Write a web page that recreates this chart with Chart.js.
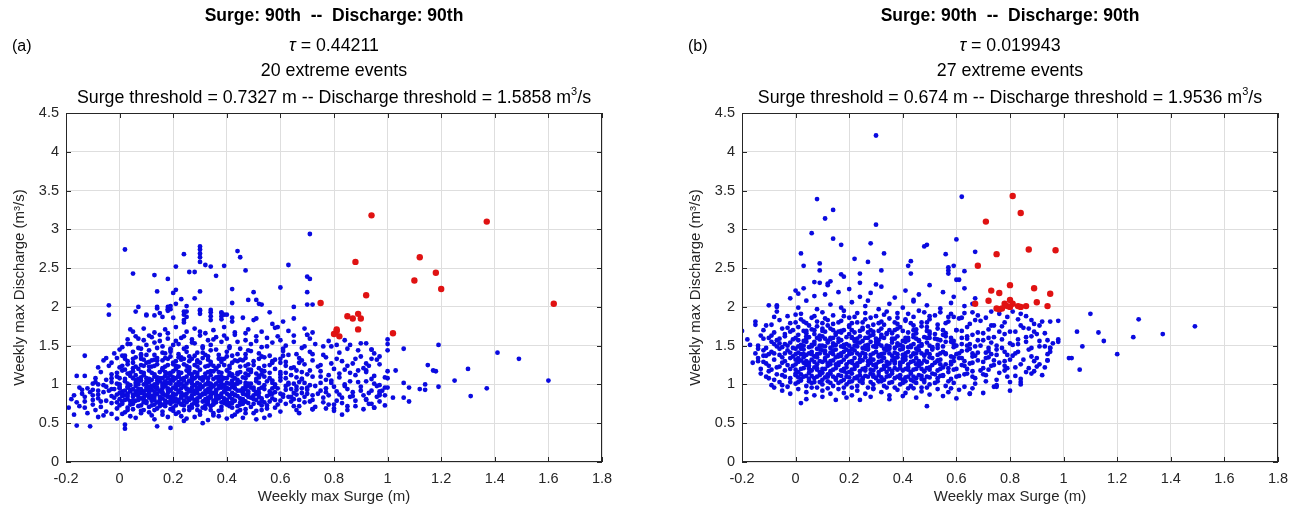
<!DOCTYPE html>
<html>
<head>
<meta charset="utf-8">
<script src="https://cdn.jsdelivr.net/npm/chart.js@4.4.1/dist/chart.umd.min.js"></script>
<style>
  body { margin: 0; background: #fff; font-family: "Liberation Sans", Arial, sans-serif; }
  #wrap { position: relative; width: 1302px; height: 513px; overflow: hidden; }
  .panel { position: absolute; top: 0; width: 651px; height: 513px; }
  .panel canvas { position: absolute; left: 0; top: 0; }
  .t { position: absolute; white-space: nowrap; transform: translateX(-50%); font-size: 17.8px; line-height: 20px; color: #000; }
  .t.b { font-weight: bold; font-size: 17.5px; }
  .tag { position: absolute; font-size: 16px; line-height: 18px; color: #000; }
  sup { font-size: 11px; line-height: 0; position: relative; top: -1px; }
</style>
</head>
<body>
<div id="wrap">
  <div class="panel" id="pa" style="left:0"><canvas id="ca" width="651" height="513"></canvas></div>
  <div class="panel" id="pb" style="left:651px"><canvas id="cb" width="651" height="513"></canvas></div>
</div>
<script>
// all values in hundredths: [surge (cm), discharge (0.01 m3/s)]
const xTicks = [-0.2, 0, 0.2, 0.4, 0.6, 0.8, 1, 1.2, 1.4, 1.6, 1.8];
const yTicks = [0, 0.5, 1, 1.5, 2, 2.5, 3, 3.5, 4, 4.5];

const tauA = '0.44211', eventsA = 20, surgeThrA = '0.7327', dischThrA = '1.5858';
const tauB = '0.019943', eventsB = 27, surgeThrB = '0.674', dischThrB = '1.9536';

// (a) extreme events
const redA = [[94,318],[137,310],[88,258],[112,264],[118,244],[110,234],[120,223],[92,215],[75,205],[162,204],
  [85,188],[87,185],[89,191],[90,185],[89,171],[81,169],[80,165],[82,162],[102,166],[81,171]];

// (a) other weeks
const blueA = [
  [-17,61],[-16,47],[-11,46],[2,43],[2,48],[14,46],[19,44],[31,50],[24,53],[51,55],[54,57],[42,59],
  [-6,60],[-1,56],[4,59],[8,63],[13,55],[18,58],[21,62],[25,56],[30,61],[33,54],[37,59],[43,61],[46,57],[50,63],[56,60],[67,63],[83,61],
  [-12,63],[-9,67],[-5,65],[-1,69],[2,64],[5,68],[8,66],[11,64],[14,69],[16,65],[19,68],[22,64],[24,67],[27,70],[30,65],[32,69],[35,63],[38,67],[42,70],[44,65],[47,68],[51,66],[55,69],[60,65],[66,67],[72,68],[77,69],[80,66],[85,67],[91,68],[95,70],
  [-15,72],[-10,74],[-7,71],[-3,76],[0,73],[3,70],[5,75],[7,72],[9,77],[11,71],[13,74],[15,76],[17,72],[19,75],[20,70],[22,77],[24,73],[26,71],[28,76],[29,73],[31,70],[33,75],[34,72],[36,77],[38,71],[40,74],[42,76],[44,72],[46,75],[49,71],[52,76],[55,73],[58,70],[62,75],[65,72],[69,77],[73,71],[78,74],[83,76],[88,72],[94,75],[99,73],
  [-18,81],[-13,78],[-8,82],[-5,79],[-2,83],[1,78],[3,81],[5,84],[6,79],[8,82],[10,78],[11,83],[13,80],[14,77],[16,82],[17,79],[18,84],[20,78],[21,81],[23,83],[24,79],[25,77],[27,82],[28,80],[30,84],[31,78],[32,81],[34,83],[35,79],[37,82],[38,77],[40,80],[41,84],[43,79],[45,82],[47,78],[49,83],[51,80],[54,77],[57,82],[60,79],[63,84],[67,80],[71,78],[76,83],[81,79],[86,84],[92,81],[97,78],
  [-14,88],[-10,86],[-6,90],[-3,85],[0,89],[2,86],[4,91],[5,87],[7,84],[8,89],[10,86],[11,90],[12,85],[14,88],[15,91],[17,86],[18,89],[19,84],[21,87],[22,90],[23,85],[25,88],[26,91],[27,86],[29,89],[30,84],[31,87],[33,90],[34,86],[35,89],[37,85],[38,88],[39,91],[41,86],[42,89],[44,85],[46,88],[48,91],[50,86],[52,89],[55,85],[58,90],[61,87],[64,84],[68,89],[72,86],[77,90],[82,87],[87,85],[93,89],[99,86],
  [-12,95],[-8,92],[-5,97],[-2,94],[1,91],[3,96],[4,93],[6,98],[7,94],[9,91],[10,96],[12,93],[13,97],[15,92],[16,95],[17,98],[19,93],[20,96],[22,92],[23,95],[24,98],[26,93],[27,96],[28,91],[30,94],[31,97],[32,92],[34,95],[35,98],[36,93],[38,96],[39,91],[41,94],[42,97],[44,92],[46,95],[48,98],[50,93],[53,96],[56,91],[59,95],[62,98],[66,93],[70,96],[75,92],[80,97],[85,94],[90,92],[96,98],
  [-10,101],[-6,99],[-3,103],[0,100],[2,104],[4,99],[6,102],[8,105],[9,100],[11,103],[12,98],[14,101],[15,104],[17,99],[18,102],[20,105],[21,100],[22,103],[24,98],[25,101],[26,104],[28,99],[29,102],[31,105],[32,100],[33,103],[35,98],[36,101],[37,104],[39,99],[40,102],[42,105],[43,100],[45,103],[47,98],[49,101],[51,104],[54,99],[57,102],[60,105],[63,100],[67,103],[71,99],[75,102],[79,105],[84,100],[89,103],[95,101],
  [-9,108],[-5,106],[-1,110],[2,107],[4,111],[6,106],[8,109],[9,112],[11,107],[13,110],[14,105],[16,108],[17,111],[19,106],[20,109],[22,112],[23,107],[25,110],[26,105],[28,108],[29,111],[31,106],[32,109],[34,112],[35,107],[37,110],[38,105],[40,108],[42,111],[44,106],[46,109],[48,112],[51,107],[54,110],[57,105],[60,109],[64,112],[68,107],[72,110],[77,106],[82,109],[88,112],[94,107],
  [-16,111],[-13,111],[-14,93],[-13,137],[-5,134],[-8,122],
  [-7,116],[-3,113],[1,118],[3,114],[5,117],[7,120],[9,115],[11,118],[13,113],[15,116],[16,119],[18,114],[20,117],[21,120],[23,115],[25,118],[27,113],[28,116],[30,119],[32,114],[34,117],[36,120],[38,115],[40,118],[42,113],[45,116],[48,119],[51,114],[54,117],[58,120],[62,115],[66,118],[70,113],[75,117],[80,120],[86,115],[92,118],
  [-4,124],[0,122],[3,126],[5,121],[8,125],[10,128],[12,123],[14,126],[16,121],[18,125],[20,128],[22,123],[24,126],[26,122],[28,125],[30,128],[32,123],[34,126],[36,121],[39,125],[42,128],[45,123],[48,126],[52,121],[56,125],[60,128],[65,122],[69,126],[74,123],[79,127],[85,124],[91,121],[97,126],
  [-6,131],[-1,134],[3,130],[6,135],[9,132],[11,129],[14,134],[16,131],[19,136],[21,130],[24,133],[26,136],[29,131],[31,134],[34,129],[37,133],[40,136],[43,131],[47,134],[50,130],[54,135],[58,132],[62,129],[67,134],[72,131],[77,135],[83,130],[88,133],
  [-2,140],[2,137],[5,142],[8,139],[11,144],[13,138],[16,141],[19,145],[22,139],[25,142],[28,137],[31,141],[34,144],[37,138],[40,142],[44,139],[48,144],[52,140],[56,137],[61,143],[66,139],[71,142],[76,138],[82,141],[89,144],[95,140],
  [1,148],[4,152],[7,147],[10,151],[13,154],[16,149],[19,146],[22,152],[25,148],[28,153],[31,147],[34,151],[38,155],[41,149],[45,146],[49,152],[53,148],[57,154],[62,150],[68,147],[73,152],[79,149],[86,151],[92,153],
  [3,158],[6,162],[9,157],[12,161],[15,164],[18,159],[21,156],[24,162],[27,158],[30,163],[33,157],[36,161],[40,159],[43,164],[47,157],[51,162],[55,160],[60,157],[65,163],[71,159],[78,156],[84,157],
  [5,168],[9,172],[13,167],[17,171],[21,174],[25,168],[28,172],[32,166],[35,170],[39,174],[43,167],[48,171],[53,168],[58,173],[63,169],[69,172],[72,167],[70,164],[4,171],
  [10,190],[14,200],[15,192],[16,187],[19,201],[19,197],[24,194],[24,183],[24,180],[25,194],[25,187],[30,195],[34,193],[34,188],[34,183],[38,193],[38,188],[38,184],[42,186],[42,181],[50,183],[57,178],[59,174],[61,181],
  [2,274],[71,294],[30,278],[30,274],[30,269],[30,264],[30,258],[44,272],[45,264],[24,268],[5,243],[21,252],[26,245],[28,245],[32,254],[34,252],[39,253],[36,240],[47,247],[63,254],[70,239],[71,236],[13,241],[18,236],
  [14,220],[20,218],[21,222],[23,210],[28,211],[30,220],[42,223],[50,219],[48,209],[51,209],[52,204],[53,203],[60,225],[65,200],[70,219],[70,203],[72,203],[42,205],[56,193],
  [-4,202],[-4,190],[7,200],[6,194],[10,189],[13,189],[14,198],[18,200],[18,197],[18,195],[21,204],[25,201],[30,196],[30,191],[34,196],[38,192],[39,190],[40,190],[24,190],[20,186],[46,186],[51,185],[65,185],
  [160,105],[141,141],[149,133],[137,95],[131,85],[130,120],[125,105],[119,151],[119,97],[117,118],[118,117],[115,125],[114,100],[114,93],[112,94],[108,78],[108,96],[106,83],[106,102],[106,146],
  [103,118],[100,117],[100,158],[100,152],[100,144],[100,108],[99,96],[100,96],[97,91],[97,88],[97,86],[102,83],[95,70],[96,132],[97,136],[94,133],[94,145],[92,127],[92,116],[92,80],
  [70,164],[76,149],[81,151],[85,146],[90,153],[94,145],[80,69],[72,68],
  // dense core, second pass
  [3,67],[9,67],[13,67],[20,66],[26,67],[29,67],[34,67],[37,66],[45,67],[53,67],
  [1,75],[4,74],[10,76],[12,73],[16,74],[21,73],[23,75],[27,74],[32,73],[35,74],[39,76],[41,72],[45,74],[48,76],[53,73],
  [-10,80],[0,81],[2,80],[7,80],[9,80],[12,81],[15,80],[19,80],[22,80],[26,80],[29,82],[33,79],[36,81],[39,79],[42,81],[46,80],[50,81],[53,79],[58,80],[65,81],
  [-8,87],[-1,87],[1,88],[3,88],[6,87],[9,88],[13,87],[16,88],[20,88],[24,87],[28,88],[32,88],[36,87],[40,88],[43,87],[47,87],[51,88],[56,87],[60,88],[66,87],[70,88],
  [-10,93],[-3,94],[0,95],[5,94],[8,94],[11,95],[14,94],[18,95],[21,94],[25,95],[29,94],[33,94],[37,95],[40,94],[43,95],[47,94],[52,94],[57,95],[64,94],[68,95],
  [-8,100],[-1,101],[3,101],[7,100],[10,101],[13,100],[16,101],[19,101],[23,101],[27,101],[30,100],[34,101],[38,101],[41,101],[44,101],[48,101],[52,102],[58,100],[65,101],[69,102],
  [-3,108],[0,108],[5,108],[7,107],[10,108],[15,108],[18,108],[21,108],[24,108],[27,109],[30,108],[33,108],[36,109],[39,108],[43,108],[47,108],[52,109],[56,108],[62,108],[66,109],
  [-1,115],[4,115],[8,116],[12,115],[17,116],[19,115],[22,116],[26,115],[29,115],[33,116],[37,116],[41,115],[44,115],[49,116],[56,115],[60,116],[68,116],
  [1,124],[6,123],[9,124],[13,124],[17,123],[21,124],[25,124],[29,123],[33,124],[37,124],[41,124],[47,124],[54,124],[62,124],
  [2,133],[8,133],[13,132],[18,133],[23,132],[27,133],[33,132],[39,133],[45,132],[52,133],[60,133],
  // third pass, scattered
  [-13,84],[-7,78],[-4,92],[-1,77],[1,85],[3,97],[4,78],[6,91],[7,103],[8,73],[10,93],[11,88],[12,106],[13,84],[14,96],[15,72],[16,90],[17,104],[18,77],[19,92],
  [20,83],[21,97],[22,110],[23,74],[24,86],[25,94],[26,82],[27,105],[28,92],[29,78],[30,99],[31,88],[32,110],[33,83],[34,97],[35,75],[36,91],[37,106],[38,84],[39,97],
  [40,78],[41,112],[42,88],[43,95],[44,103],[45,77],[46,91],[47,114],[48,84],[49,96],[50,75],[51,90],[52,111],[53,82],[54,94],[55,104],[56,78],[57,88],[58,97],[59,74],
  [60,113],[61,84],[62,93],[63,102],[64,78],[65,89],[66,97],[67,72],[68,107],[69,84],[70,93],[71,118],[72,80],[73,98],[74,88],[75,110],[76,77],[77,95],[78,86],[79,102],
  [80,74],[81,91],[82,114],[83,83],[84,98],[85,72],[86,104],[87,90],[88,79],[89,118],[90,97],[91,86],[92,104],[93,75],[94,92],[95,111],[96,84],[97,99],[98,92],[99,109],
  [2,119],[5,128],[8,137],[11,123],[14,131],[17,140],[20,126],[23,135],[26,119],[29,129],[32,138],[35,124],[38,133],[41,121],[44,130],[47,139],[50,125],[53,118],[57,128],[61,137],
  [64,121],[68,131],[72,139],[75,125],[78,112],[81,133],[84,119],[87,127],[90,136],[93,124],
  [-17,86],[-15,96],[-11,90],[-9,103],[-16,77],[-19,70],[-13,70],[-8,58],[-3,62],[1,62],[6,57],[12,60],[16,61],[23,59],[28,58],[35,60],[40,56],[47,63],
  // fourth pass
  [0,97],[2,92],[3,85],[5,79],[6,112],[7,89],[9,83],[10,104],[11,97],[12,79],[13,91],[14,109],[15,84],[16,98],[17,75],[18,93],[19,112],[20,87],[21,79],[22,99],
  [23,89],[24,105],[25,83],[26,114],[27,91],[28,77],[29,96],[30,86],[31,109],[32,79],[33,100],[34,90],[35,117],[36,84],[37,98],[38,110],[39,82],[40,96],[41,76],[42,101],
  [43,86],[44,113],[45,92],[46,81],[47,102],[48,88],[49,119],[50,96],[52,84],[53,113],
  [-3,128],[0,145],[1,137],[3,152],[5,133],[7,159],[8,146],[10,138],[11,163],[12,131],[14,147],[15,156],[17,134],[18,166],[19,142],[20,151],[22,135],[23,160],[24,146],[26,130],
  [27,154],[29,141],[30,168],[31,149],[33,136],[35,158],[36,145],[38,129],[39,163],[41,147],[42,137],[44,155],[46,131],[47,166],[49,143],[51,156],[53,136],[55,149],[57,130],[59,162],
  [61,146],[63,138],[65,155],[67,128],[69,149]
];

// (b) extreme events
const redB = [[81,343],[84,321],[71,310],[87,274],[97,273],[75,268],[68,253],[80,228],[89,224],[73,221],[76,218],[95,217],[72,208],[80,209],
  [90,206],[67,204],[78,204],[79,201],[81,204],[83,201],[84,200],[86,201],[94,201],[75,198],[76,197],[77,198],[80,200]];

// (b) other weeks
const blueB = [
  [2,76],[4,81],[15,80],[24,80],[35,81],[49,72],[60,82],[65,88],[10,84],[19,83],[28,84],[40,85],[45,83],[55,85],
  [-5,92],[-2,88],[1,94],[4,90],[7,86],[10,92],[13,88],[16,94],[18,89],[21,86],[23,92],[26,88],[29,94],[32,90],[35,86],[38,93],[41,89],[44,95],[47,91],[50,87],[53,94],[57,90],[61,93],[66,95],[70,89],[74,97],[75,97],[80,92],
  [-9,99],[-6,103],[-3,97],[0,101],[2,105],[4,98],[6,102],[8,96],[10,100],[12,104],[14,98],[16,102],[18,96],[19,100],[21,104],[23,98],[25,102],[27,96],[29,100],[31,104],[33,98],[35,102],[37,96],[39,100],[41,104],[43,98],[45,102],[47,96],[50,100],[53,104],[56,98],[59,102],[63,97],[67,101],[71,104],[75,99],[80,103],[84,100],[84,103],
  [-11,110],[-8,106],[-5,112],[-2,108],[0,114],[2,107],[4,111],[5,115],[7,108],[9,112],[10,106],[12,110],[13,114],[15,108],[16,112],[18,106],[19,110],[21,114],[22,108],[24,112],[25,106],[27,110],[28,114],[30,108],[31,112],[33,106],[34,110],[36,114],[37,108],[39,112],[40,106],[42,110],[43,114],[45,108],[46,112],[48,106],[49,110],[51,114],[53,108],[55,112],[58,107],[61,111],[64,114],[67,108],[71,112],[75,106],[79,110],[84,107],[88,114],[89,117],
  [-13,120],[-10,117],[-7,122],[-4,118],[-1,124],[1,116],[3,121],[4,125],[6,118],[7,122],[9,116],[10,120],[12,124],[13,117],[15,121],[16,125],[17,118],[19,122],[20,116],[22,120],[23,124],[24,117],[26,121],[27,125],[29,118],[30,122],[31,116],[33,120],[34,124],[36,117],[37,121],[39,125],[40,118],[42,122],[43,116],[45,120],[46,124],[48,117],[49,121],[51,125],[53,118],[55,122],[57,116],[60,120],[63,124],[66,117],[70,121],[74,125],[78,118],[82,122],[86,116],[90,123],[91,126],
  [-14,130],[-11,127],[-8,132],[-5,128],[-2,134],[0,126],[2,131],[3,135],[5,128],[6,132],[8,126],[9,130],[11,134],[12,127],[14,131],[15,135],[16,128],[18,132],[19,126],[21,130],[22,134],[23,127],[25,131],[26,135],[28,128],[29,132],[30,126],[32,130],[33,134],[35,127],[36,131],[38,135],[39,128],[41,132],[42,126],[44,130],[45,134],[47,127],[48,131],[50,135],[52,128],[54,132],[56,126],[59,130],[62,134],[65,127],[68,131],[72,135],[76,128],[80,132],[84,126],[89,130],[94,131],
  [-15,140],[-12,137],[-9,142],[-6,138],[-3,144],[-1,136],[1,141],[3,145],[4,138],[6,142],[7,136],[9,140],[10,144],[12,137],[13,141],[15,145],[16,138],[18,142],[19,136],[21,140],[22,144],[24,137],[25,141],[27,145],[28,138],[30,142],[31,136],[33,140],[34,144],[36,137],[37,141],[39,145],[40,138],[42,142],[43,136],[45,140],[46,144],[48,137],[49,141],[51,145],[53,138],[55,142],[58,136],[61,140],[64,144],[67,137],[71,141],[75,145],[79,138],[83,142],[88,136],[95,142],
  [-14,150],[-11,147],[-8,152],[-5,148],[-2,154],[0,146],[2,151],[4,155],[5,148],[7,152],[8,146],[10,150],[12,154],[13,147],[15,151],[16,155],[18,148],[19,152],[21,146],[22,150],[24,154],[25,147],[27,151],[28,155],[30,148],[31,152],[33,146],[34,150],[36,154],[37,147],[39,151],[41,155],[42,148],[44,152],[45,146],[47,150],[49,154],[51,147],[53,151],[56,155],[59,148],[62,152],[65,146],[69,150],[73,154],[77,147],[81,151],[86,155],[91,149],[95,147],
  [-10,160],[-7,157],[-4,162],[-1,158],[1,164],[3,156],[5,161],[7,165],[9,158],[10,162],[12,156],[14,160],[15,164],[17,157],[19,161],[20,165],[22,158],[24,162],[25,156],[27,160],[29,164],[31,157],[32,161],[34,165],[36,158],[38,162],[40,156],[42,160],[44,164],[46,157],[48,161],[50,165],[53,158],[56,162],[59,156],[62,160],[66,164],[70,157],[74,161],[78,165],[83,158],[88,162],[94,157],[98,158],[98,155],
  [-20,169],[-12,170],[-8,167],[-5,172],[-2,168],[1,174],[4,166],[6,171],[8,175],[11,168],[13,172],[15,166],[18,170],[20,174],[22,167],[25,171],[27,175],[29,168],[32,172],[34,166],[37,170],[39,174],[42,167],[45,171],[47,175],[50,168],[53,172],[56,166],[60,170],[64,174],[68,167],[72,171],[77,175],[82,168],[87,172],[93,166],
  [-15,181],[-15,177],[-9,177],[-6,183],[-2,179],[2,184],[5,176],[8,181],[11,185],[14,178],[17,182],[20,176],[23,180],[26,184],[29,177],[32,181],[35,185],[38,178],[41,182],[44,176],[47,180],[50,184],[53,177],[57,181],[61,185],[65,178],[69,182],[73,176],[78,180],[83,184],[88,183],[89,178],[91,176],[92,181],[95,181],
  [-7,194],[-3,188],[2,191],[6,186],[10,193],[14,189],[18,195],[22,187],[26,192],[30,188],[34,194],[38,186],[42,191],[46,195],[50,188],[54,193],[59,187],[63,192],[68,189],[73,194],[79,187],[84,191],
  [-10,202],[-7,202],[-7,200],[1,199],[4,208],[8,197],[13,203],[17,199],[21,206],[26,201],[31,197],[35,204],[40,199],[44,207],[49,202],[54,198],[58,205],[63,201],[66,204],
  [-2,211],[0,221],[1,217],[3,224],[7,214],[12,228],[16,219],[20,223],[24,213],[28,218],[32,226],[37,212],[41,221],[46,216],[50,228],[55,219],[59,213],[63,224],[67,211],[11,216],[44,209],[27,208],
  [30,421],[8,339],[14,325],[11,314],[30,306],[6,295],[14,288],[28,282],[17,280],[62,342],[60,287],[49,280],[48,278],[67,271],[56,268],[33,269],[2,269],[22,262],[9,256],[9,247],[3,253],[27,258],
  [42,253],[43,259],[43,243],[57,251],[57,247],[57,243],[59,253],[63,246],[60,235],[61,235],[24,243],[32,247],[17,242],[18,239],[7,232],[9,231],[12,230],[13,233],[24,231],[30,229],
  [149,175],[137,165],[128,184],[126,161],[120,139],[115,156],[113,167],[110,191],[105,168],[107,149],[102,134],[103,134],[106,119],[98,182],[95,147],[94,131],[65,88],
  // dense core, second pass
  [6,96],[12,95],[21,96],[29,95],[34,96],[42,95],[49,96],[58,95],
  [1,103],[5,104],[9,103],[13,102],[17,104],[20,103],[24,104],[28,103],[32,104],[36,103],[40,102],[44,104],[48,103],[52,102],[57,104],
  [-4,110],[1,109],[3,110],[6,111],[8,110],[11,109],[14,110],[17,111],[20,109],[23,110],[26,111],[29,110],[32,109],[35,111],[38,110],[41,109],[44,110],[47,111],[50,109],[54,111],[60,110],[66,110],
  [-9,119],[-2,120],[0,119],[2,120],[5,120],[8,119],[11,120],[14,119],[18,120],[21,119],[25,120],[28,119],[32,119],[35,120],[38,119],[41,120],[44,119],[47,120],[50,119],[54,120],[59,119],[64,120],[72,119],
  [-12,129],[-4,130],[1,129],[4,130],[7,129],[10,129],[13,130],[17,129],[20,129],[24,129],[27,130],[31,129],[34,129],[37,130],[40,129],[43,129],[46,130],[49,129],[53,130],[58,129],[63,130],[70,129],[78,130],
  [-10,139],[-4,140],[0,139],[2,139],[5,140],[8,139],[11,140],[14,139],[17,140],[20,139],[23,140],[26,139],[29,140],[32,139],[35,140],[38,139],[41,140],[44,139],[47,140],[50,139],[54,140],[60,139],[66,140],[73,139],
  [-7,149],[-3,150],[1,149],[3,150],[6,149],[9,150],[11,149],[14,150],[17,149],[20,150],[23,149],[26,150],[29,149],[32,150],[35,149],[38,150],[40,149],[43,150],[46,149],[50,150],[55,149],[60,150],[67,149],[75,150],
  [-6,159],[0,160],[4,159],[8,160],[11,159],[13,160],[16,159],[21,160],[23,159],[26,160],[30,159],[33,160],[37,159],[41,160],[45,159],[49,160],[52,159],[58,160],[64,159],[72,160],
  [-1,170],[3,169],[7,170],[10,169],[14,170],[17,169],[21,170],[24,169],[28,170],[31,169],[35,170],[40,169],[44,170],[49,169],[55,170],[62,169],
  [0,180],[4,179],[10,179],[16,180],[21,179],[25,180],[31,179],[37,180],[43,179],[49,180],[56,179],
  // third pass, scattered
  [-14,134],[-12,144],[-10,124],[-9,155],[-7,113],[-6,146],[-5,135],[-4,165],[-3,125],[-2,103],[-1,147],[0,132],[1,157],[2,113],[3,139],[4,169],[5,124],[6,151],[7,103],[8,135],
  [9,163],[10,115],[11,143],[12,176],[13,126],[14,153],[15,106],[16,136],[17,167],[18,117],[19,145],[20,186],[21,128],[22,156],[23,108],[24,138],[25,173],[26,118],[27,147],[28,163],
  [29,125],[30,155],[31,104],[32,136],[33,177],[34,116],[35,146],[36,166],[37,127],[38,153],[39,108],[40,133],[41,184],[42,119],[43,148],[44,161],[45,126],[46,156],[47,107],[48,138],
  [49,174],[50,122],[51,148],[52,165],[53,131],[54,157],[55,111],[56,140],[57,187],[58,126],[59,152],[60,170],[61,134],[62,143],[63,113],[64,162],[65,152],[66,128],[67,183],[68,141],
  [69,118],[70,166],[71,134],[72,147],[73,124],[74,176],[75,138],[76,115],[77,158],[78,142],[79,121],[80,168],[81,137],[82,111],[83,152],[84,176],[85,132],[86,161],[87,121],[88,147],
  [89,168],[90,134],[91,156],[92,112],[93,149],[94,139],
  [-13,163],[-11,176],[-8,187],[-6,153],[-3,173],[0,190],[3,181],[7,188],[12,183],[18,188],[23,192],[28,186],[33,190],[38,192],[44,187],[48,193],[52,189],[58,191],[62,186],[66,193],
  [71,186],[76,191],[81,194],[86,188],[-17,151],[-18,158],[-16,128],[-13,114],[-10,108],[-8,96],[-5,99],
  // fourth pass
  [0,112],[1,134],[2,146],[3,128],[4,162],[5,107],[6,139],[7,155],[8,121],[9,146],[10,172],[11,131],[12,113],[13,158],[14,144],[15,126],[16,168],[17,137],[18,151],[19,115],
  [20,143],[21,161],[22,125],[23,154],[24,132],[25,108],[26,146],[27,167],[28,133],[29,112],[30,151],[31,138],[32,164],[33,124],[34,147],[35,111],[36,159],[37,134],[38,172],[39,121],
  [40,146],[41,136],[42,157],[43,106],[44,140],[45,166],[46,129],[47,152],[48,117],[49,143],[50,160],[51,134],[52,113],[53,147],[54,126],[55,164],[56,139],[57,121],[58,155],[59,135],
  [-2,141],[-4,152],[-6,123],[-8,140],[-9,163],[-11,137],[-12,159],[-14,146],[62,125],[64,150],[66,136],[68,157],[70,113],[72,143],[74,131],[76,168],[78,124],[80,153],[82,140],[85,173],
  [87,145],[90,165],[93,122],[96,153]
];

const blueColor = '#0a0ae0';
const redColor = '#e01212';
const tickColor = '#262626';
const gridColor = '#dedede';

// text above each panel
function addText(panelId, cx, tag, tau, events, sThr, dThr) {
  const p = document.getElementById(panelId);
  const lines = [
    ['t b', 5, 'Surge: 90th&nbsp; --&nbsp; Discharge: 90th'],
    ['t', 35, '<i>\u03c4</i> = ' + tau],
    ['t', 60, events + ' extreme events'],
    ['t', 87, 'Surge threshold = ' + sThr + ' m -- Discharge threshold = ' + dThr + ' m<sup>3</sup>/s']
  ];
  lines.forEach(l => {
    const d = document.createElement('div');
    d.className = l[0];
    d.style.left = cx + 'px';
    d.style.top = l[1] + 'px';
    d.innerHTML = l[2];
    p.appendChild(d);
  });
  const t = document.createElement('div');
  t.className = 'tag';
  t.style.left = (cx - 322) + 'px';
  t.style.top = '37px';
  t.textContent = tag;
  p.appendChild(t);
}

// MATLAB-like box with inward ticks
const boxPlugin = {
  id: 'box',
  afterDraw(chart) {
    const {ctx, chartArea: a, scales: {x, y}} = chart;
    ctx.save();
    ctx.strokeStyle = tickColor;
    ctx.lineWidth = 1;
    ctx.strokeRect(a.left + 0.5, a.top + 0.5, a.right - a.left - 1, a.bottom - a.top - 1);
    ctx.beginPath();
    x.ticks.forEach(t => {
      const px = Math.round(x.getPixelForValue(t.value)) + 0.5;
      ctx.moveTo(px, a.bottom); ctx.lineTo(px, a.bottom - 5);
      ctx.moveTo(px, a.top); ctx.lineTo(px, a.top + 5);
    });
    y.ticks.forEach(t => {
      const py = Math.round(y.getPixelForValue(t.value)) + 0.5;
      ctx.moveTo(a.left, py); ctx.lineTo(a.left + 5, py);
      ctx.moveTo(a.right, py); ctx.lineTo(a.right - 5, py);
    });
    ctx.stroke();
    ctx.restore();
  }
};

function makePanel(canvasId, blue, red, padLeft, padRight) {
  const font = {family: '"Liberation Sans", Arial, sans-serif', size: 14.5};
  new Chart(document.getElementById(canvasId), {
    type: 'scatter',
    data: {
      datasets: [
        {data: red.map(p => ({x: p[0] / 100, y: p[1] / 100})), backgroundColor: redColor, borderWidth: 0, pointRadius: 3.2},
        {data: blue.map(p => ({x: p[0] / 100, y: p[1] / 100})), backgroundColor: blueColor, borderWidth: 0, pointRadius: 2.4}
      ]
    },
    options: {
      responsive: false,
      animation: false,
      layout: {padding: {top: 113, left: padLeft, right: padRight, bottom: 0}},
      plugins: {legend: {display: false}, tooltip: {enabled: false}},
      scales: {
        x: {
          type: 'linear', min: xTicks[0], max: xTicks[xTicks.length - 1],
          afterBuildTicks: s => { s.ticks = xTicks.map(v => ({value: v})); },
          ticks: {color: tickColor, font: font, padding: 8, maxRotation: 0,
            callback: v => String(Number(v.toFixed(1)))},
          grid: {color: gridColor, drawTicks: false},
          border: {display: false},
          title: {display: true, text: 'Weekly max Surge (m)', color: tickColor,
            font: {family: font.family, size: 15}, padding: {top: 0, bottom: 7}},
          afterFit: s => { s.height = 51; }
        },
        y: {
          type: 'linear', min: yTicks[0], max: yTicks[yTicks.length - 1],
          afterBuildTicks: s => { s.ticks = yTicks.map(v => ({value: v})); },
          ticks: {color: tickColor, font: font, padding: 7,
            callback: v => String(Number(v.toFixed(1)))},
          grid: {color: gridColor, drawTicks: false},
          border: {display: false},
          title: {display: true, text: 'Weekly max Discharge (m\u00b3/s)', color: tickColor,
            font: {family: font.family, size: 15}, padding: {top: 11, bottom: 0}},
          afterFit: s => { s.width = 66; }
        }
      }
    },
    plugins: [boxPlugin]
  });
}

addText('pa', 334, '(a)', tauA, eventsA, surgeThrA, dischThrA);
addText('pb', 359, '(b)', tauB, eventsB, surgeThrB, dischThrB);
makePanel('ca', blueA, redA, 0, 49);
makePanel('cb', blueB, redB, 25, 24);
</script>
</body>
</html>
